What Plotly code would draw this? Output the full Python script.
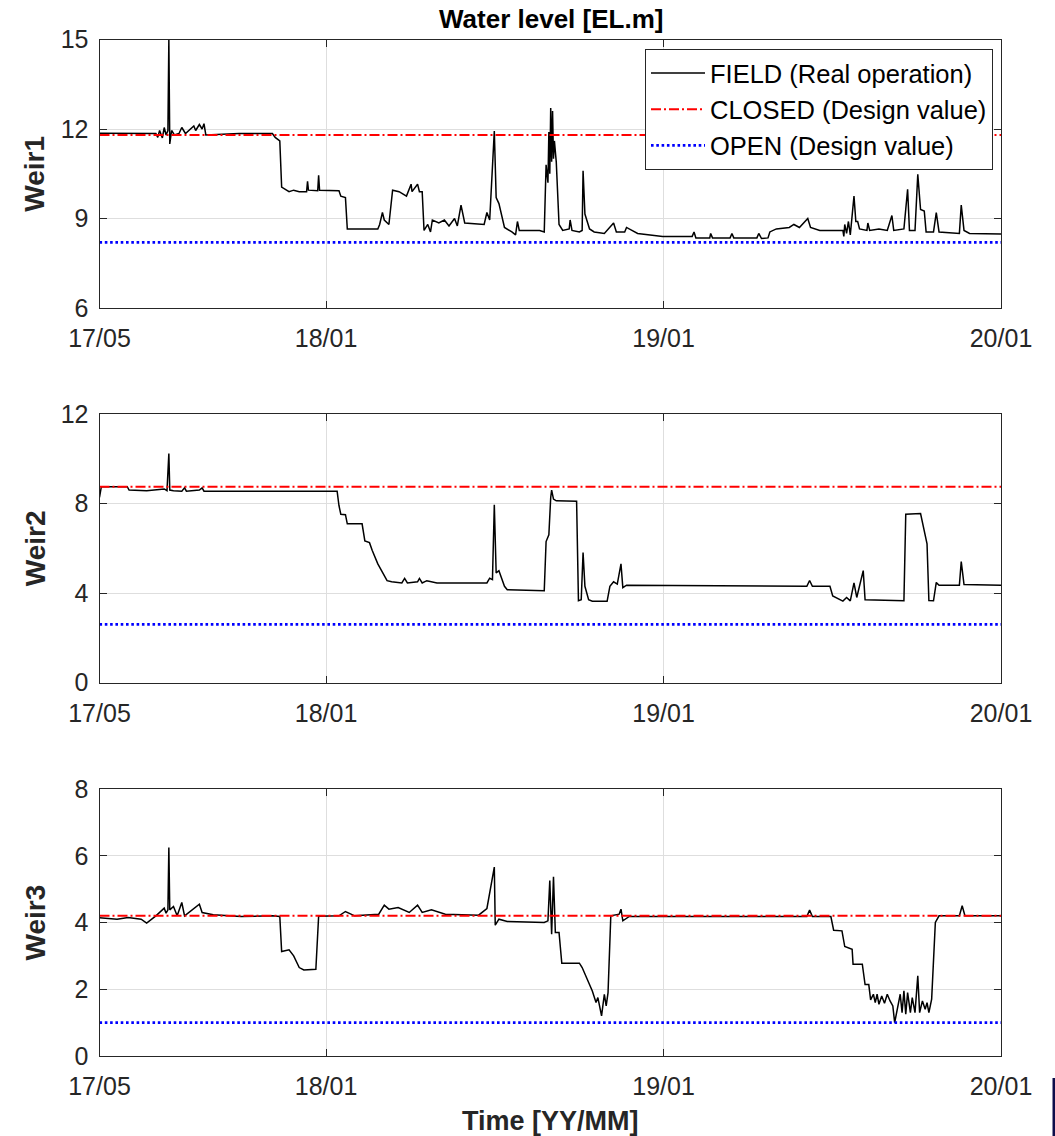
import plotly.graph_objects as go

W, H = 1055, 1136

# ---------------- data ----------------
w1_dates = ["2017-05-01", "2017-06-13", "2017-07-01", "2017-07-03", "2017-07-05", "2017-07-08",
            "2017-07-10", "2017-07-12", "2017-07-14", "2017-07-15", "2017-07-16", "2017-07-18",
            "2017-07-21", "2017-07-26", "2017-07-29", "2017-08-02", "2017-08-06", "2017-08-11",
            "2017-08-13", "2017-08-17", "2017-08-20", "2017-08-22", "2017-08-24", "2017-09-07",
            "2017-09-29", "2017-11-04", "2017-11-07", "2017-11-12", "2017-11-14", "2017-11-22",
            "2017-11-27", "2017-12-03", "2017-12-11", "2017-12-12", "2017-12-13", "2017-12-23",
            "2017-12-24", "2017-12-25", "2018-01-15", "2018-01-17", "2018-01-22", "2018-01-24",
            "2018-02-06", "2018-02-26", "2018-02-28", "2018-03-03", "2018-03-05", "2018-03-10",
            "2018-03-14", "2018-03-21", "2018-03-29", "2018-04-03", "2018-04-04", "2018-04-10",
            "2018-04-12", "2018-04-15", "2018-04-17", "2018-04-21", "2018-04-24", "2018-04-26",
            "2018-05-03", "2018-05-09", "2018-05-14", "2018-05-20", "2018-05-23", "2018-05-27",
            "2018-05-31", "2018-06-21", "2018-06-24", "2018-06-27", "2018-07-02", "2018-07-04",
            "2018-07-07", "2018-07-13", "2018-07-21", "2018-07-25", "2018-07-27", "2018-07-29",
            "2018-08-20", "2018-08-25", "2018-08-27", "2018-08-29", "2018-08-30", "2018-08-31",
            "2018-09-01", "2018-09-02", "2018-09-03", "2018-09-04", "2018-09-05", "2018-09-07",
            "2018-09-10", "2018-09-14", "2018-09-21", "2018-09-22", "2018-09-24", "2018-10-02",
            "2018-10-05", "2018-10-06", "2018-10-08", "2018-10-13", "2018-10-18", "2018-10-29",
            "2018-11-08", "2018-11-11", "2018-11-20", "2018-11-22", "2018-12-04", "2018-12-17",
            "2018-12-31", "2019-02-01", "2019-02-03", "2019-02-05", "2019-02-20", "2019-02-21",
            "2019-02-23", "2019-03-14", "2019-03-16", "2019-03-18", "2019-04-12", "2019-04-14",
            "2019-04-17", "2019-04-24", "2019-04-26", "2019-05-03", "2019-05-17", "2019-05-22",
            "2019-05-28", "2019-06-06", "2019-06-09", "2019-06-19", "2019-07-14", "2019-07-15",
            "2019-07-16", "2019-07-18", "2019-07-20", "2019-07-22", "2019-07-26", "2019-07-28",
            "2019-07-30", "2019-08-01", "2019-08-09", "2019-08-10", "2019-08-12", "2019-08-22",
            "2019-08-31", "2019-09-05", "2019-09-07", "2019-09-18", "2019-09-22", "2019-09-24",
            "2019-09-30", "2019-10-03", "2019-10-06", "2019-10-10", "2019-10-12", "2019-10-20",
            "2019-10-23", "2019-10-26", "2019-11-17", "2019-11-19", "2019-11-22", "2019-11-28",
            "2020-01-01"]
w1_level = [11.86, 11.85, 11.85, 11.72, 11.95, 11.70,
            12.05, 11.80, 11.95, 15.00, 11.50, 11.95,
            11.80, 11.85, 12.05, 11.85, 11.95, 12.10,
            11.95, 12.15, 12.00, 12.18, 11.80, 11.82,
            11.85, 11.85, 11.72, 11.60, 10.05, 9.90,
            9.95, 9.90, 9.90, 10.25, 9.95, 9.93,
            10.45, 9.95, 9.93, 9.75, 9.70, 8.65,
            8.65, 8.65, 8.80, 9.20, 8.95, 8.80,
            9.95, 9.90, 9.75, 10.15, 9.90, 10.15,
            9.90, 9.90, 8.60, 8.80, 8.55, 8.95,
            8.85, 8.95, 8.75, 9.00, 8.75, 9.45,
            8.85, 8.80, 9.20, 8.95, 11.93, 9.70,
            9.50, 8.70, 8.55, 8.45, 8.90, 8.60,
            8.60, 8.55, 10.80, 10.20, 11.90, 10.50,
            12.70, 10.90, 12.60, 11.00, 11.60, 10.90,
            8.80, 8.60, 8.65, 8.95, 8.60, 8.55,
            8.60, 10.60, 9.15, 8.65, 8.55, 8.50,
            8.85, 8.55, 8.55, 8.70, 8.50, 8.45,
            8.40, 8.40, 8.55, 8.35, 8.35, 8.50,
            8.35, 8.35, 8.50, 8.35, 8.35, 8.50,
            8.33, 8.35, 8.55, 8.65, 8.70, 8.80,
            8.70, 9.00, 8.70, 8.60, 8.60, 8.40,
            8.80, 8.50, 8.90, 8.45, 9.75, 8.90,
            8.90, 8.65, 8.60, 8.85, 8.60, 8.65,
            8.60, 9.10, 8.60, 8.65, 9.98, 8.60,
            8.60, 10.48, 9.30, 9.25, 8.55, 8.55,
            9.20, 8.55, 8.50, 9.45, 8.60, 8.50,
            8.48]

w2_dates = ["2017-05-01", "2017-05-03", "2017-05-31", "2017-06-02", "2017-06-21", "2017-07-10",
            "2017-07-13", "2017-07-15", "2017-07-16", "2017-07-20", "2017-07-29", "2017-08-01",
            "2017-08-03", "2017-08-17", "2017-08-20", "2017-08-22", "2017-09-29", "2018-01-13",
            "2018-01-15", "2018-01-17", "2018-01-22", "2018-01-24", "2018-02-09", "2018-02-12",
            "2018-02-17", "2018-02-20", "2018-02-26", "2018-03-03", "2018-03-08", "2018-03-13",
            "2018-03-24", "2018-03-27", "2018-03-30", "2018-04-10", "2018-04-12", "2018-04-15",
            "2018-04-20", "2018-05-01", "2018-06-24", "2018-06-27", "2018-06-30", "2018-07-02",
            "2018-07-04", "2018-07-07", "2018-07-13", "2018-07-16", "2018-08-25", "2018-08-27",
            "2018-08-30", "2018-09-01", "2018-09-02", "2018-09-04", "2018-09-07", "2018-09-29",
            "2018-10-01", "2018-10-04", "2018-10-06", "2018-10-08", "2018-10-12", "2018-10-16",
            "2018-11-01", "2018-11-04", "2018-11-08", "2018-11-12", "2018-11-16", "2018-11-18",
            "2018-11-22", "2019-06-05", "2019-06-08", "2019-06-11", "2019-06-30", "2019-07-03",
            "2019-07-14", "2019-07-18", "2019-07-22", "2019-07-26", "2019-07-29", "2019-08-05",
            "2019-08-07", "2019-09-18", "2019-09-20", "2019-10-06", "2019-10-11", "2019-10-13",
            "2019-10-15", "2019-10-20", "2019-10-23", "2019-10-26", "2019-11-17", "2019-11-19",
            "2019-11-22", "2020-01-01"]
w2_level = [8.27, 8.75, 8.75, 8.60, 8.57, 8.65,
            8.57, 10.23, 8.60, 8.57, 8.55, 8.70,
            8.55, 8.60, 8.70, 8.55, 8.55, 8.55,
            7.90, 7.52, 7.50, 7.09, 7.09, 6.33,
            6.25, 5.90, 5.30, 4.90, 4.55, 4.50,
            4.45, 4.65, 4.45, 4.50, 4.65, 4.45,
            4.55, 4.45, 4.45, 4.66, 4.60, 7.94,
            4.90, 5.00, 4.30, 4.15, 4.10, 6.30,
            6.60, 8.27, 8.60, 8.20, 8.12, 8.10,
            3.66, 3.70, 5.81, 4.30, 3.70, 3.63,
            3.63, 4.30, 4.50, 4.40, 5.30, 4.24,
            4.35, 4.30, 4.56, 4.30, 4.30, 3.87,
            3.64, 3.80, 3.65, 4.45, 3.80, 5.00,
            3.70, 3.65, 7.52, 7.55, 6.48, 6.20,
            3.66, 3.65, 4.47, 4.35, 4.35, 5.40,
            4.38, 4.35]

w3_dates = ["2017-05-01", "2017-05-20", "2017-06-01", "2017-06-15", "2017-06-21", "2017-07-01",
            "2017-07-10", "2017-07-12", "2017-07-14", "2017-07-15", "2017-07-16", "2017-07-20",
            "2017-07-24", "2017-07-29", "2017-08-01", "2017-08-17", "2017-08-20", "2017-09-01",
            "2017-10-01", "2017-11-04", "2017-11-12", "2017-11-14", "2017-11-22", "2017-11-27",
            "2017-12-03", "2017-12-08", "2017-12-21", "2017-12-24", "2018-01-15", "2018-01-22",
            "2018-02-01", "2018-02-27", "2018-03-05", "2018-03-10", "2018-03-20", "2018-04-01",
            "2018-04-10", "2018-04-15", "2018-04-25", "2018-05-10", "2018-06-15", "2018-06-24",
            "2018-07-02", "2018-07-03", "2018-07-07", "2018-07-16", "2018-08-25", "2018-08-29",
            "2018-08-31", "2018-09-02", "2018-09-04", "2018-09-06", "2018-09-10", "2018-09-13",
            "2018-10-02", "2018-10-05", "2018-10-16", "2018-10-20", "2018-10-22", "2018-10-26",
            "2018-10-29", "2018-10-31", "2018-11-02", "2018-11-05", "2018-11-14", "2018-11-16",
            "2018-11-18", "2018-11-25", "2019-06-05", "2019-06-08", "2019-06-11", "2019-07-01",
            "2019-07-04", "2019-07-13", "2019-07-16", "2019-07-24", "2019-07-25", "2019-08-04",
            "2019-08-07", "2019-08-11", "2019-08-13", "2019-08-16", "2019-08-18", "2019-08-20",
            "2019-08-22", "2019-08-25", "2019-08-28", "2019-08-31", "2019-09-03", "2019-09-06",
            "2019-09-08", "2019-09-11", "2019-09-14", "2019-09-16", "2019-09-18", "2019-09-20",
            "2019-09-22", "2019-09-25", "2019-09-27", "2019-09-30", "2019-10-03", "2019-10-05",
            "2019-10-08", "2019-10-11", "2019-10-13", "2019-10-15", "2019-10-18", "2019-10-22",
            "2019-10-26", "2019-11-17", "2019-11-20", "2019-11-23", "2020-01-01"]
w3_level = [4.14, 4.10, 4.15, 4.10, 3.98, 4.20,
            4.43, 4.28, 4.38, 6.25, 4.38, 4.48,
            4.20, 4.60, 4.20, 4.55, 4.30, 4.23,
            4.18, 4.20, 4.18, 3.13, 3.18, 3.00,
            2.65, 2.58, 2.60, 4.19, 4.20, 4.33,
            4.20, 4.25, 4.52, 4.40, 4.45, 4.30,
            4.52, 4.30, 4.38, 4.25, 4.22, 4.42,
            5.66, 3.92, 4.10, 4.03, 4.00, 4.05,
            5.26, 3.65, 5.37, 3.70, 3.70, 2.78,
            2.78, 2.65, 1.95, 1.60, 1.75, 1.20,
            1.85, 1.50, 1.90, 4.20, 4.25, 4.40,
            4.05, 4.18, 4.18, 4.37, 4.18, 4.18,
            3.77, 3.75, 3.28, 3.20, 2.75, 2.75,
            2.14, 2.14, 1.68, 1.85, 1.60, 1.85,
            1.55, 1.80, 1.58, 1.85, 1.65, 1.50,
            1.00, 1.45, 1.85, 1.30, 1.95, 1.25,
            1.90, 1.30, 1.75, 1.30, 2.40, 1.30,
            1.65, 1.40, 1.60, 1.30, 1.70, 4.00,
            4.20, 4.20, 4.50, 4.20, 4.20]

weir_names = ["Weir1", "Weir2", "Weir3"]
field_dates = [w1_dates, w2_dates, w3_dates]
field_levels = [w1_level, w2_level, w3_level]
closed_levels = [11.8, 8.75, 4.2]
open_levels = [8.2, 2.6, 1.0]
period = ["2017-05-01", "2020-01-01"]
x_tickvals = ["2017-05-01", "2018-01-01", "2019-01-01", "2020-01-01"]
y_ranges = [[6, 15], [0, 12], [0, 8]]
y_ticks = [[6, 9, 12, 15], [0, 4, 8, 12], [0, 2, 4, 6, 8]]
legend_names = ["FIELD (Real operation)", "CLOSED (Design value)", "OPEN (Design value)"]

# ---------------- layout geometry (pixels) ----------------
px_left, px_right = 99.5, 1001
px_rows = [(39.5, 308), (414, 682.5), (789, 1056)]

FONT = "Liberation Sans, Arial, Helvetica, sans-serif"
TXT = "#262626"

fig = go.Figure()
layout = dict(
    template="none",
    width=W, height=H, autosize=False,
    margin=dict(l=0, r=0, t=0, b=0, pad=0, autoexpand=False),
    paper_bgcolor="white", plot_bgcolor="white",
    font=dict(family=FONT, size=25, color=TXT),
    showlegend=True,
    legend=dict(x=993 / W, xanchor="right", y=1 - 49 / H, yanchor="top",
                bgcolor="white", bordercolor="#262626", borderwidth=1,
                font=dict(family=FONT, size=25.5, color="#000000"),
                itemwidth=54, tracegroupgap=0),
    annotations=[], shapes=[],
)

for i in range(3):
    sfx = "" if i == 0 else str(i + 1)
    xa, ya = "x" + sfx, "y" + sfx
    top, bot = px_rows[i]
    layout["xaxis" + sfx] = dict(
        domain=[px_left / W, px_right / W], anchor=ya, type="date",
        range=period, tickvals=x_tickvals, tickformat="%y/%m",
        showline=True, linecolor="#262626", linewidth=1, mirror="ticks",
        ticks="inside", ticklen=7, tickcolor="#262626",
        showgrid=True, gridcolor="#dedede", gridwidth=1,
        zeroline=False, ticklabelstandoff=8, automargin=False,
        tickfont=dict(family=FONT, size=25, color=TXT),
    )
    layout["yaxis" + sfx] = dict(
        domain=[1 - bot / H, 1 - top / H], anchor=xa,
        range=y_ranges[i], tickvals=y_ticks[i],
        showline=True, linecolor="#262626", linewidth=1, mirror="ticks",
        ticks="inside", ticklen=7, tickcolor="#262626",
        showgrid=True, gridcolor="#dedede", gridwidth=1,
        zeroline=False, ticklabelstandoff=5, automargin=False,
        tickfont=dict(family=FONT, size=25, color=TXT),
    )
    fig.add_trace(go.Scatter(x=field_dates[i], y=field_levels[i], mode="lines",
                             line=dict(color="black", width=1.5),
                             name=legend_names[0], showlegend=(i == 0),
                             xaxis=xa, yaxis=ya))
    fig.add_trace(go.Scatter(x=period, y=[closed_levels[i]] * 2, mode="lines",
                             line=dict(color="#ff0000", width=2, dash="10px,3px,2px,3px"),
                             name=legend_names[1], showlegend=(i == 0),
                             xaxis=xa, yaxis=ya))
    fig.add_trace(go.Scatter(x=period, y=[open_levels[i]] * 2, mode="lines",
                             line=dict(color="#0000ff", width=2.6, dash="2.6px,2.7px"),
                             name=legend_names[2], showlegend=(i == 0),
                             xaxis=xa, yaxis=ya))
    layout["annotations"].append(dict(
        text="<b>%s</b>" % weir_names[i], xref="paper", yref="paper",
        x=35 / W, y=1 - (top + bot) / 2 / H, xanchor="center", yanchor="middle",
        textangle=-90, showarrow=False, font=dict(family=FONT, size=28, color=TXT)))

layout["annotations"].append(dict(
    text="<b>Water level [EL.m]</b>", xref="paper", yref="paper",
    x=550.5 / W, y=1 - 19 / H, xanchor="center", yanchor="middle",
    showarrow=False, font=dict(family=FONT, size=26, color="#000000")))
layout["annotations"].append(dict(
    text="<b>Time [YY/MM]</b>", xref="paper", yref="paper",
    x=550.5 / W, y=1 - 1121 / H, xanchor="center", yanchor="middle",
    showarrow=False, font=dict(family=FONT, size=27, color=TXT)))
# small dark edge mark in the lower-right corner of the original image
layout["shapes"].append(dict(type="rect", xref="paper", yref="paper",
                             x0=1052.5 / W, x1=1, y0=0, y1=1 - 1078 / H,
                             fillcolor="#0d0d4a", line=dict(width=0)))

fig.update_layout(**layout)
fig.write_html("out.html",
               config={"displayModeBar": False},
               post_script="document.body.style.margin='0';"
                           "document.body.style.overflow='hidden';")
